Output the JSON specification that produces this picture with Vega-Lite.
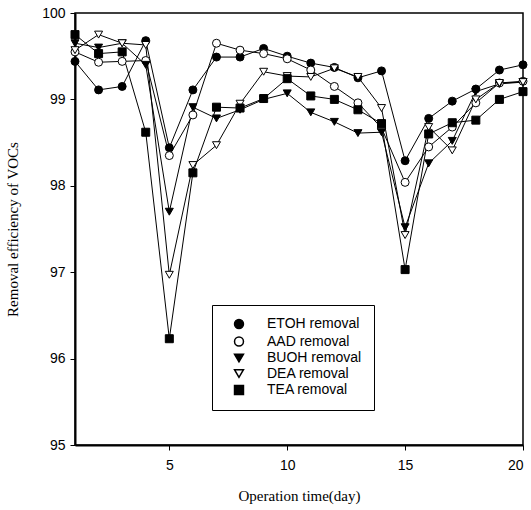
{
  "$schema": "https://vega.github.io/schema/vega-lite/v6.json",
  "autosize": "none",
  "width": 448,
  "height": 432,
  "padding": {"left": 75, "top": 13, "right": 8, "bottom": 65},
  "background": "white",
  "config": {
    "view": {"stroke": "black", "strokeWidth": 1.5},
    "axis": {"grid": false, "domainColor": "black", "domainWidth": 2, "tickColor": "black", "tickSize": 5, "labelFont": "Liberation Sans", "labelFontSize": 14, "labelColor": "black", "titleFont": "Liberation Serif", "titleFontSize": 15, "titleFontWeight": "normal", "titleColor": "black"},
    "legend": {"title": null, "orient": "none", "legendX": 137, "legendY": 292, "strokeColor": "black", "padding": 12, "rowPadding": 1.5, "symbolSize": 80, "symbolOffset": 8, "labelOffset": 21, "labelFont": "Liberation Sans", "labelFontSize": 14, "labelColor": "black", "fillColor": "white"}
  },
  "data": {"values": [
    {"day":1,"series":"ETOH removal","v":99.44},{"day":2,"series":"ETOH removal","v":99.11},{"day":3,"series":"ETOH removal","v":99.15},{"day":4,"series":"ETOH removal","v":99.68},{"day":5,"series":"ETOH removal","v":98.44},{"day":6,"series":"ETOH removal","v":99.11},{"day":7,"series":"ETOH removal","v":99.49},{"day":8,"series":"ETOH removal","v":99.49},{"day":9,"series":"ETOH removal","v":99.59},{"day":10,"series":"ETOH removal","v":99.5},{"day":11,"series":"ETOH removal","v":99.42},{"day":12,"series":"ETOH removal","v":99.37},{"day":13,"series":"ETOH removal","v":99.25},{"day":14,"series":"ETOH removal","v":99.33},{"day":15,"series":"ETOH removal","v":98.29},{"day":16,"series":"ETOH removal","v":98.78},{"day":17,"series":"ETOH removal","v":98.98},{"day":18,"series":"ETOH removal","v":99.12},{"day":19,"series":"ETOH removal","v":99.34},{"day":20,"series":"ETOH removal","v":99.4},
    {"day":1,"series":"AAD removal","v":99.55},{"day":2,"series":"AAD removal","v":99.43},{"day":3,"series":"AAD removal","v":99.44},{"day":4,"series":"AAD removal","v":99.45},{"day":5,"series":"AAD removal","v":98.35},{"day":6,"series":"AAD removal","v":98.82},{"day":7,"series":"AAD removal","v":99.65},{"day":8,"series":"AAD removal","v":99.57},{"day":9,"series":"AAD removal","v":99.53},{"day":10,"series":"AAD removal","v":99.47},{"day":11,"series":"AAD removal","v":99.34},{"day":12,"series":"AAD removal","v":99.15},{"day":13,"series":"AAD removal","v":98.96},{"day":14,"series":"AAD removal","v":98.67},{"day":15,"series":"AAD removal","v":98.04},{"day":16,"series":"AAD removal","v":98.45},{"day":17,"series":"AAD removal","v":98.68},{"day":18,"series":"AAD removal","v":98.96},{"day":19,"series":"AAD removal","v":99.19},{"day":20,"series":"AAD removal","v":99.21},
    {"day":1,"series":"BUOH removal","v":99.65},{"day":2,"series":"BUOH removal","v":99.6},{"day":3,"series":"BUOH removal","v":99.65},{"day":4,"series":"BUOH removal","v":99.4},{"day":5,"series":"BUOH removal","v":97.7},{"day":6,"series":"BUOH removal","v":98.91},{"day":7,"series":"BUOH removal","v":98.78},{"day":8,"series":"BUOH removal","v":98.88},{"day":9,"series":"BUOH removal","v":99.0},{"day":10,"series":"BUOH removal","v":99.07},{"day":11,"series":"BUOH removal","v":98.85},{"day":12,"series":"BUOH removal","v":98.74},{"day":13,"series":"BUOH removal","v":98.61},{"day":14,"series":"BUOH removal","v":98.62},{"day":15,"series":"BUOH removal","v":97.52},{"day":16,"series":"BUOH removal","v":98.26},{"day":17,"series":"BUOH removal","v":98.52},{"day":18,"series":"BUOH removal","v":99.09},{"day":19,"series":"BUOH removal","v":99.18},{"day":20,"series":"BUOH removal","v":99.2},
    {"day":1,"series":"DEA removal","v":99.57},{"day":2,"series":"DEA removal","v":99.75},{"day":3,"series":"DEA removal","v":99.65},{"day":4,"series":"DEA removal","v":99.63},{"day":5,"series":"DEA removal","v":96.97},{"day":6,"series":"DEA removal","v":98.24},{"day":7,"series":"DEA removal","v":98.47},{"day":8,"series":"DEA removal","v":98.95},{"day":9,"series":"DEA removal","v":99.32},{"day":10,"series":"DEA removal","v":99.27},{"day":11,"series":"DEA removal","v":99.26},{"day":12,"series":"DEA removal","v":99.36},{"day":13,"series":"DEA removal","v":99.26},{"day":14,"series":"DEA removal","v":98.9},{"day":15,"series":"DEA removal","v":97.43},{"day":16,"series":"DEA removal","v":98.68},{"day":17,"series":"DEA removal","v":98.41},{"day":18,"series":"DEA removal","v":99.0},{"day":19,"series":"DEA removal","v":99.19},{"day":20,"series":"DEA removal","v":99.2},
    {"day":1,"series":"TEA removal","v":99.75},{"day":2,"series":"TEA removal","v":99.53},{"day":3,"series":"TEA removal","v":99.55},{"day":4,"series":"TEA removal","v":98.62},{"day":5,"series":"TEA removal","v":96.23},{"day":6,"series":"TEA removal","v":98.15},{"day":7,"series":"TEA removal","v":98.91},{"day":8,"series":"TEA removal","v":98.9},{"day":9,"series":"TEA removal","v":99.01},{"day":10,"series":"TEA removal","v":99.24},{"day":11,"series":"TEA removal","v":99.04},{"day":12,"series":"TEA removal","v":99.0},{"day":13,"series":"TEA removal","v":98.88},{"day":14,"series":"TEA removal","v":98.72},{"day":15,"series":"TEA removal","v":97.03},{"day":16,"series":"TEA removal","v":98.6},{"day":17,"series":"TEA removal","v":98.73},{"day":18,"series":"TEA removal","v":98.76},{"day":19,"series":"TEA removal","v":99.0},{"day":20,"series":"TEA removal","v":99.09}
  ]},
  "encoding": {
    "x": {"field": "day", "type": "quantitative", "scale": {"domain": [1, 20], "nice": false, "zero": false}, "axis": {"values": [5, 10, 15, 20], "title": "Operation time(day)", "titlePadding": 16, "labelPadding": 8}},
    "y": {"field": "v", "type": "quantitative", "scale": {"domain": [95, 100], "nice": false, "zero": false}, "axis": {"values": [95, 96, 97, 98, 99, 100], "title": "Removal efficiency of VOCs", "titlePadding": 21, "labelPadding": 5}}
  },
  "layer": [
    {
      "mark": {"type": "line", "color": "black", "strokeWidth": 1},
      "encoding": {"detail": {"field": "series"}}
    },
    {
      "mark": {"type": "point", "filled": true, "stroke": "black", "strokeWidth": 1, "size": 64, "opacity": 1},
      "encoding": {
        "shape": {"field": "series", "type": "nominal", "scale": {"domain": ["ETOH removal", "AAD removal", "BUOH removal", "DEA removal", "TEA removal"], "range": ["circle", "circle", "triangle-down", "triangle-down", "square"]},
          "legend": {"encode": {"symbols": {"update": {
            "stroke": {"value": "black"}, "strokeWidth": {"value": 1}, "strokeOpacity": {"value": 1}, "opacity": {"value": 1}
          }}}}},
        "fill": {"field": "series", "type": "nominal", "scale": {"domain": ["ETOH removal", "AAD removal", "BUOH removal", "DEA removal", "TEA removal"], "range": ["black", "white", "black", "white", "black"]}}
      }
    }
  ]
}
